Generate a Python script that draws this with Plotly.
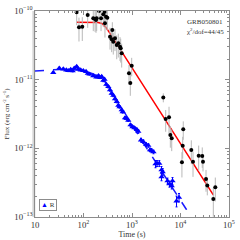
import plotly.graph_objects as go

# X-ray (black) data: time (s), flux (erg cm^-2 s^-1), relative error
xr_time = [72.4, 80.7, 94.4, 122, 159, 173, 187, 181, 209, 230, 256, 274, 291, 310, 277,
           393, 352, 381, 411, 446, 484, 522, 566, 613, 585, 986, 867, 923,
           4420, 4950, 5800, 6170, 6590, 11100, 11400, 10700, 16700, 18100, 23700,
           28100, 29100, 33600, 35700, 47500, 52200]
xr_flux = [9.58e-11, 5.8e-11, 5.9e-11, 8.75e-11, 7.83e-11, 7.65e-11, 7.83e-11, 7.4e-11, 1.0e-10,
           7.83e-11, 8.95e-11, 9.77e-11, 8.26e-11, 7.98e-11, 6.62e-11,
           5.28e-11, 4.22e-11, 3.87e-11, 3.57e-11, 4.01e-11, 3.2e-11, 3.39e-11, 3.02e-11,
           2.42e-11, 2.86e-11, 1.6e-11, 1.24e-11, 8.95e-12,
           5.5e-12, 2.68e-12, 2.84e-12, 1.57e-12, 1.40e-12, 1.09e-12, 1.90e-12, 6.28e-13,
           9.48e-13, 6.4e-13, 7.83e-13, 7.75e-13, 6.4e-13, 3.59e-13, 2.87e-13, 1.83e-13, 2.72e-13]
xr_relerr = [0.35, 0.38, 0.38, 0.35, 0.35, 0.35, 0.35, 0.35, 0.3, 0.35, 0.35, 0.35, 0.35, 0.35, 0.38,
             0.3, 0.35, 0.35, 0.35, 0.35, 0.38, 0.38, 0.38, 0.38, 0.38, 0.3, 0.32, 0.35,
             0.15, 0.35, 0.42, 0.35, 0.35, 0.35, 0.3, 0.4, 0.38, 0.4, 0.4, 0.33, 0.28,
             0.35, 0.28, 0.45, 0.38]

# Optical R-band (blue) data
r_time = [23.8, 31.7, 38.4, 44.2, 48.6, 54.5, 59.9, 64.6, 72.4, 78.2, 87.5, 99, 113, 123, 133,
          159, 184, 204, 219, 237, 256, 271, 295, 325, 352, 381, 411, 446, 484, 522, 553,
          613, 643, 717, 770, 839, 931, 1024, 1127, 1256, 1349, 1534, 1711, 1945, 2168,
          2350, 2523, 2775, 3052, 3275, 3654, 4058, 4294, 4058, 5395, 5933, 6840, 6590,
          8280, 9320]
r_flux = [1.27e-11, 1.47e-11, 1.43e-11, 1.38e-11, 1.35e-11, 1.41e-11, 1.34e-11, 1.47e-11,
          1.55e-11, 1.43e-11, 1.38e-11, 1.35e-11, 1.31e-11, 1.23e-11, 1.20e-11, 1.14e-11,
          1.09e-11, 1.14e-11, 1.07e-11, 1.11e-11, 9.73e-12, 1.01e-11, 8.51e-12, 7.9e-12,
          7.08e-12, 6.34e-12, 5.89e-12, 5.27e-12, 4.79e-12, 4.21e-12, 4.01e-12, 3.62e-12,
          3.39e-12, 2.77e-12, 2.72e-12, 2.56e-12, 2.19e-12, 2.06e-12, 1.98e-12, 1.88e-12,
          1.76e-12, 1.32e-12, 1.25e-12, 1.14e-12, 1.10e-12, 9.48e-13, 9.31e-13, 8.87e-13,
          5.93e-13, 6.03e-13, 6.03e-13, 4.85e-13, 4.53e-13, 3.83e-13, 3.35e-13, 3.03e-13,
          3.35e-13, 2.84e-13, 1.71e-13, 1.93e-13]
r_relerr = [0.03] * 20 + [0.04] * 20 + [0.06] * 8 + [0.12, 0.1, 0.1, 0.12, 0.12, 0.12,
                                                    0.1, 0.1, 0.12, 0.1, 0.18, 0.14]

# Model curves
xr_model_t = [72.4, 199, 240, 291, 352, 47400]
xr_model_f = [6.85e-11, 6.8e-11, 6.58e-11, 5.75e-11, 4.73e-11, 2.1e-13]
r_model_t = [10, 32.7, 84.7, 150, 219, 291, 387, 566, 910, 1462, 15700]
r_model_f = [1.34e-11, 1.41e-11, 1.38e-11, 1.23e-11, 1.09e-11, 8.95e-12, 6.62e-12,
             4.21e-12, 2.47e-12, 1.42e-12, 1.07e-13]

SERIF = "Liberation Serif, Times New Roman, serif"

fig = go.Figure()

fig.add_trace(go.Scatter(
    x=r_model_t, y=r_model_f, mode="lines",
    line=dict(color="#1a1aff", width=1.5, dash="dash"),
    showlegend=False, hoverinfo="skip"))

fig.add_trace(go.Scatter(
    x=xr_model_t, y=xr_model_f, mode="lines",
    line=dict(color="#ff0000", width=1.5),
    showlegend=False, hoverinfo="skip"))

fig.add_trace(go.Scatter(
    x=xr_time, y=xr_flux, mode="markers",
    marker=dict(symbol="circle", size=4, color="black"),
    error_y=dict(type="data", array=[f * e for f, e in zip(xr_flux, xr_relerr)],
                 color="#b8b8b8", thickness=1, width=0),
    showlegend=False))

fig.add_trace(go.Scatter(
    x=r_time, y=r_flux, mode="markers", name="R",
    marker=dict(symbol="triangle-up", size=5.5, color="#0000ff"),
    error_y=dict(type="data", array=[f * e for f, e in zip(r_flux, r_relerr)],
                 color="#0000ff", thickness=1, width=1),
    showlegend=False))

axis_common = dict(
    type="log", dtick=1, exponentformat="power", showgrid=False, zeroline=False,
    showline=True, linecolor="#8c8c8c", linewidth=1, mirror="allticks",
    ticks="inside", ticklen=4, tickcolor="#8c8c8c", tickwidth=1,
    minor=dict(ticks="inside", ticklen=2, tickcolor="#8c8c8c", showgrid=False),
    tickfont=dict(family=SERIF, size=7, color="#333333"),
)

fig.update_xaxes(range=[1, 5], title=dict(text="Time (s)", font=dict(family=SERIF, size=8, color="#333333"), standoff=2),
                 **axis_common)
fig.update_yaxes(range=[-13, -10],
                 title=dict(text="Flux (erg cm<sup>-2</sup> s<sup>-1</sup>)",
                            font=dict(family=SERIF, size=7, color="#333333"), standoff=3),
                 **axis_common)

fig.update_layout(
    width=240, height=240,
    margin=dict(l=35, r=11, t=11, b=23, autoexpand=False),
    paper_bgcolor="white", plot_bgcolor="white",
    showlegend=False,
    shapes=[dict(type="line", xref="paper", yref="paper", x0=-0.006, x1=-0.006, y0=0, y1=1,
                 line=dict(color="#d6d6d6", width=3), layer="below")],
    annotations=[
        dict(text="GRB050801", xref="paper", yref="paper", x=0.775, y=0.945,
             xanchor="left", yanchor="middle", showarrow=False,
             font=dict(family=SERIF, size=7, color="#333333")),
        dict(text="χ<sup>2</sup>/dof=44/45", xref="paper", yref="paper", x=0.775, y=0.9,
             xanchor="left", yanchor="middle", showarrow=False,
             font=dict(family=SERIF, size=7, color="#333333")),
        dict(text='<span style="color:#0000ff">▲</span> R', xref="paper", yref="paper",
             x=0.02, y=0.03, xanchor="left", yanchor="bottom", showarrow=False,
             bordercolor="#8c8c8c", borderwidth=1, borderpad=1, bgcolor="white",
             font=dict(family=SERIF, size=7, color="#333333")),
    ],
)

fig.write_html("out.html", config={"displayModeBar": False, "staticPlot": True})

# remove the browser's default page margin so the 240x240 figure fills the window
with open("out.html", "r", encoding="utf-8") as fh:
    html = fh.read()
html = html.replace("<head>", "<head><style>html,body{margin:0;padding:0;overflow:hidden;}</style>", 1)
with open("out.html", "w", encoding="utf-8") as fh:
    fh.write(html)
